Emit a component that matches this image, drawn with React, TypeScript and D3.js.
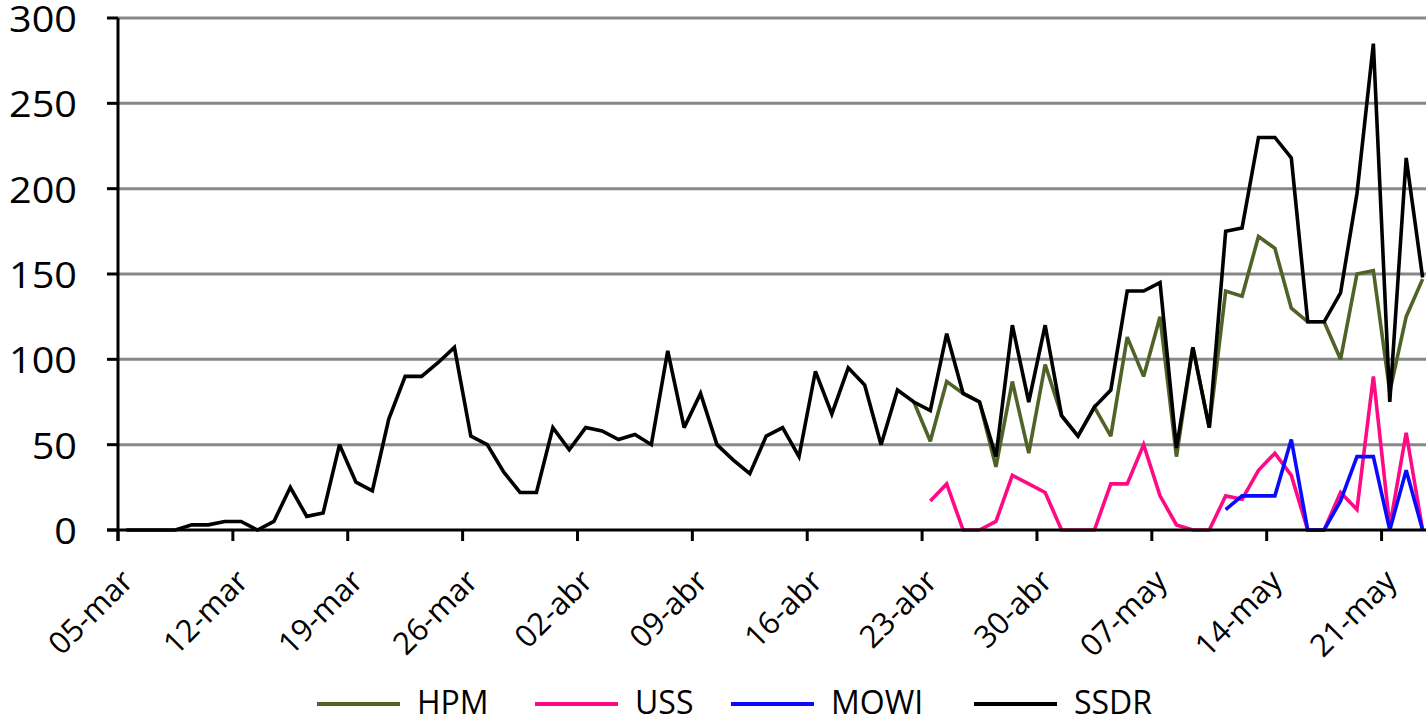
import React from "react";
import * as d3 from "d3";

// ---------- data ----------
const startDate = "2020-03-05";
const dayCount = 80;
const tickLabels = ["05-mar", "12-mar", "19-mar", "26-mar", "02-abr", "09-abr", "16-abr", "23-abr", "30-abr", "07-may", "14-may", "21-may"];
const yTicks = [0, 50, 100, 150, 200, 250, 300];
const seriesNames = ["HPM", "USS", "MOWI", "SSDR"];
const seriesColors = ["#4F6228", "#FF0A85", "#0A0AFF", "#000000"];

const hpmStartDay = 48;
const hpmValues = [75, 52, 87, 80, 75, 37, 87, 45, 97, 67, 55, 72, 55, 113, 90, 125, 43, 107, 60, 140, 137, 172, 165, 130, 122, 122, 100, 150, 152, 81, 125, 147];

const ussStartDay = 49;
const ussValues = [17, 27, 0, 0, 5, 32, 27, 22, 0, 0, 0, 27, 27, 50, 20, 3, 0, 0, 20, 18, 35, 45, 32, 0, 0, 22, 12, 90, 2, 57, 0];

const mowiStartDay = 67;
const mowiValues = [12, 20, 20, 20, 53, 0, 0, 17, 43, 43, 0, 35, 0];

const ssdrStartDay = 0;
const ssdrValues = [
  0, 0, 0, 0, 3, 3, 5, 5, 0, 5,
  25, 8, 10, 50, 28, 23, 65, 90, 90, 98,
  107, 55, 50, 34, 22, 22, 60, 47, 60, 58,
  53, 56, 50, 105, 60, 80, 50, 41, 33, 55,
  60, 43, 93, 68, 95, 85, 50, 82, 75, 70,
  115, 80, 75, 43, 120, 75, 120, 67, 55, 72,
  82, 140, 140, 145, 48, 107, 60, 175, 177, 230,
  230, 218, 122, 122, 139, 197, 285, 75, 218, 148,
];

const seriesStarts = [hpmStartDay, ussStartDay, mowiStartDay, ssdrStartDay];
const seriesValues = [hpmValues, ussValues, mowiValues, ssdrValues];

// ---------- layout ----------
const W = 1426;
const H = 723;
const left = 118;
const top = 18;
const bottom = 530;
const dayWidth = 16.41;
const FONT = "'Open Sans', 'Noto Sans', sans-serif";
const yFont = 36;
const xFont = 31;

export default function App() {
  const start = new Date(startDate + "T00:00:00Z");
  const end = d3.utcDay.offset(start, dayCount);
  const x = d3.scaleUtc().domain([start, end]).range([left, left + dayWidth * dayCount]);
  const y = d3.scaleLinear().domain([0, 300]).range([bottom, top]);

  const pointX = (day: number) => x(d3.utcHour.offset(d3.utcDay.offset(start, day), 12));
  const line = d3
    .line<[number, number]>()
    .x((d) => pointX(d[0]))
    .y((d) => y(d[1]));

  const tickDates = tickLabels.map((_, i) => d3.utcDay.offset(start, i * 7));

  const legendX = [317, 535, 731, 974];
  const legendY = 704;

  return (
    <div style={{ position: "absolute", left: 0, top: 0, width: W, height: H, background: "#fff" }}>
      <svg width={W} height={H} style={{ display: "block" }} fontFamily={FONT}>
        <rect x={0} y={0} width={W} height={H} fill="#fff" />
        {/* gridlines */}
        {yTicks
          .filter((t) => t > 0)
          .map((t) => (
            <line key={"g" + t} x1={left} x2={W} y1={y(t)} y2={y(t)} stroke="#878787" strokeWidth={3} />
          ))}
        {/* y ticks */}
        {yTicks.map((t) => (
          <line key={"yt" + t} x1={left - 11} x2={left} y1={y(t)} y2={y(t)} stroke="#000" strokeWidth={3} />
        ))}
        {yTicks.map((t) => (
          <text
            key={"yl" + t}
            x={77}
            y={y(t)}
            textAnchor="end"
            dy="0.39em"
            fontSize={yFont}
            textLength={String(t).length * 0.572 * yFont * 1.1}
            lengthAdjust="spacingAndGlyphs"
            fill="#000"
          >
            {t}
          </text>
        ))}
        {/* x ticks */}
        {tickDates.map((d, i) => (
          <line key={"xt" + i} x1={x(d)} x2={x(d)} y1={bottom} y2={bottom + 11} stroke="#000" strokeWidth={3} />
        ))}
        {tickDates.map((d, i) => (
          <text
            key={"xl" + i}
            transform={`translate(${x(d) + 17},${bottom + 53}) rotate(-45)`}
            textAnchor="end"
            fontSize={xFont}
            fill="#000"
          >
            {tickLabels[i]}
          </text>
        ))}
        {/* series */}
        {seriesValues.map((vals, si) => {
          const pts: [number, number][] = vals.map((v, i) => [seriesStarts[si] + i, v]);
          return (
            <path
              key={"s" + si}
              d={line(pts) || ""}
              fill="none"
              stroke={seriesColors[si]}
              strokeWidth={3.6}
              strokeLinejoin="miter"
              strokeMiterlimit={3}
            />
          );
        })}
        {/* axes */}
        <line x1={left} x2={left} y1={top} y2={bottom + 11} stroke="#000" strokeWidth={3} />
        <line x1={left - 11} x2={W} y1={bottom} y2={bottom} stroke="#000" strokeWidth={3} />
        {/* legend */}
        {seriesNames.map((n, i) => (
          <g key={"lg" + i}>
            <line x1={legendX[i]} x2={legendX[i] + 83} y1={legendY} y2={legendY} stroke={seriesColors[i]} strokeWidth={3.8} />
            <text x={legendX[i] + 100} y={713.5} fontSize={32} fill="#000">
              {n}
            </text>
          </g>
        ))}
      </svg>
    </div>
  );
}
